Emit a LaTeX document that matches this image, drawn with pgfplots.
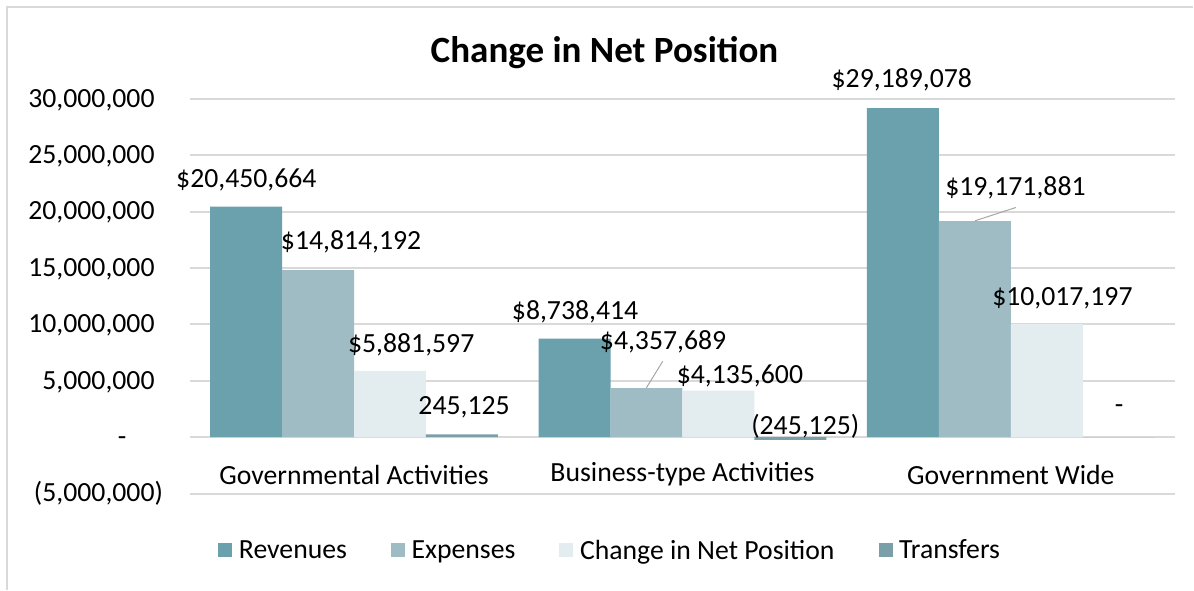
\documentclass[border=0pt]{standalone}
\usepackage{fontspec}
\setmainfont{Carlito}
\usepackage{pgfplots}
\pgfplotsset{compat=1.18}

\definecolor{rev}{HTML}{6AA1AD}
\definecolor{expn}{HTML}{9FBCC4}
\definecolor{chg}{HTML}{E3ECEE}
\definecolor{trf}{HTML}{7A9FA8}
\definecolor{gridc}{HTML}{D9D9D9}

\newcommand{\lblfont}{\fontsize{20.8}{24}\selectfont}

\begin{document}
\begin{tikzpicture}
% page size 1194x590 px at 0.75pt/px
\path[fill=white] (0,0) rectangle (895.5pt,442.5pt);
\draw[gridc, line width=1.5pt] (5.25pt,0) -- (5.25pt,437.25pt) -- (895.5pt,437.25pt);
\node[font=\fontsize{27.8}{32}\selectfont\bfseries] at (453.75pt,403pt) {Change in Net Position};

\begin{axis}[
  at={(142.5pt,72pt)}, anchor=south west,
  scale only axis, width=739.5pt, height=296.25pt,
  ybar=0pt, bar width=0.219,
  xmin=-0.5, xmax=2.5, ymin=-5000000, ymax=30000000,
  axis line style={draw=none},
  tick style={draw=none},
  ymajorgrids, major grid style={gridc, line width=1.5pt},
  xtick={0,1,2},
  xticklabels={Governmental Activities, Business-type Activities, Government Wide},
  xticklabel style={anchor=center, yshift=18.5pt, font=\lblfont},
  scaled y ticks=false,
  ytick={-5000000,0,5000000,10000000,15000000,20000000,25000000,30000000},
  yticklabels={{(5,000,000)}, {-\phantom{00)}}, {5,000,000\phantom{)}}, {10,000,000\phantom{)}},
    {15,000,000\phantom{)}}, {20,000,000\phantom{)}}, {25,000,000\phantom{)}}, {30,000,000\phantom{)}}},
  yticklabel style={anchor=east, inner sep=0pt, xshift=-20pt, font=\lblfont},
  clip=false,
  legend columns=4,
  legend style={at={(rel axis cs:0.427,-0.144)}, anchor=center, draw=none,
    font=\lblfont,
    /tikz/every odd column/.append style={column sep=3pt},
    /tikz/every even column/.append style={column sep=31pt}},
  legend image code/.code={\fill[#1] (0pt,-5.25pt) rectangle (10.5pt,5.25pt);},
]
\addplot[fill=rev, draw=none] coordinates {(0,20450664) (1,8738414) (2,29189078)};
\addplot[fill=expn, draw=none] coordinates {(0,14814192) (1,4357689) (2,19171881)};
\addplot[fill=chg, draw=none] coordinates {(0,5881597) (1,4135600) (2,10017197)};
\addplot[fill=trf, draw=none] coordinates {(0,245125) (1,-245125) (2,0)};
\legend{Revenues, Expenses, Change in Net Position, Transfers}

% data labels
\begin{scope}[every node/.style={font=\lblfont, inner sep=0pt}]
\node at (axis cs:-0.328,22830000) {\$20,450,664};
\node at (axis cs:-0.009,17330000) {\$14,814,192};
\node at (axis cs:0.174,8200000) {\$5,881,597};
\node at (axis cs:0.335,2620000) {245,125};
\node at (axis cs:0.673,11160000) {\$8,738,414};
\node at (axis cs:0.941,8500000) {\$4,357,689};
\node at (axis cs:1.175,5400000) {\$4,135,600};
\node at (axis cs:1.374,970000) {(245,125)};
\node at (axis cs:1.668,31690000) {\$29,189,078};
\node at (axis cs:2.014,22090000) {\$19,171,881};
\node at (axis cs:2.157,12340000) {\$10,017,197};
\node at (axis cs:2.330,2450000) {-};
\end{scope}
\draw[gray!70, line width=0.75pt] (axis cs:0.940,6730000) -- (axis cs:0.890,4370000);
\draw[gray!70, line width=0.75pt] (axis cs:2.015,20370000) -- (axis cs:1.891,19190000);
\end{axis}
\end{tikzpicture}
\end{document}
